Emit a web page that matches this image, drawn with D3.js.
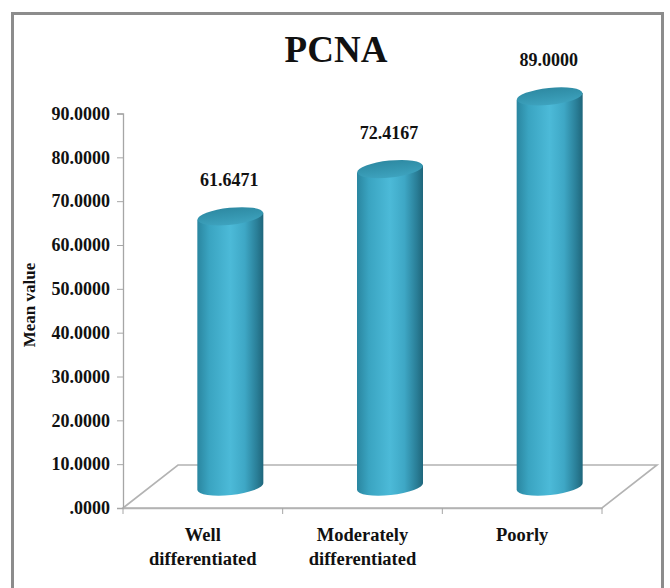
<!DOCTYPE html>
<html>
<head>
<meta charset="utf-8">
<script src="https://cdn.jsdelivr.net/npm/d3@7"></script>
<style>
body{margin:0;background:#fff;}
</style>
</head>
<body>
<svg id="chart" width="670" height="588"></svg>
<script>
const categories = [["Well","differentiated"],["Moderately","differentiated"],["Poorly"]];
const values = [61.6471, 72.4167, 89.0000];
const valueLabels = ["61.6471","72.4167","89.0000"];
const yTicks = [0,10,20,30,40,50,60,70,80,90];
const chartTitle = "PCNA";
const yTitle = "Mean value";

const FONT = "'Liberation Serif', 'Times New Roman', serif";
const svg = d3.select("#chart");
const defs = svg.append("defs");

function txt(sel){ return sel.style("font-family",FONT).style("font-weight","bold").style("fill","#111"); }

// frame
svg.append("rect").attr("x",12.5).attr("y",13.5).attr("width",650).attr("height",590)
  .attr("fill","#fff").attr("stroke","#8c8c8c").attr("stroke-width",3);

const x0 = 123, x1 = 602, depthX = 55, depthY = -43;
const y = d3.scaleLinear().domain([0,90]).range([508,113.5]);
const x = d3.scaleBand().domain(d3.range(categories.length)).range([x0,x1]).padding(0);

// title
txt(svg.append("text").attr("x",336).attr("y",62).attr("text-anchor","middle")
  .style("font-size","37px").text(chartTitle));

// y-axis title
txt(svg.append("text").attr("transform","translate(35,305) rotate(-90)")
  .attr("text-anchor","middle").style("font-size","17px").text(yTitle));

// floor
const floor = svg.append("g").attr("fill","none").attr("stroke","#b3b3b3").attr("stroke-width",1.6);
floor.append("path").attr("d",
  `M${x0},${y(0)} L${x0+depthX},${y(0)+depthY} L${x1+depthX},${y(0)+depthY} L${x1},${y(0)} Z`);

// y axis
const yAxis = d3.axisLeft(y).tickValues(yTicks).tickSize(6).tickPadding(7)
  .tickFormat(d => d===0 ? ".0000" : d3.format(".4f")(d));
const ya = svg.append("g").attr("transform",`translate(${x0},0)`).call(yAxis);
ya.select(".domain").attr("stroke","#a6a6a6").attr("stroke-width",1.3);
ya.selectAll(".tick line").attr("stroke","#a6a6a6");
txt(ya.selectAll(".tick text")).style("font-size","18px");

// x axis
const xAxis = d3.axisBottom(x).tickSize(0).tickFormat("");
const xa = svg.append("g").attr("transform",`translate(0,${y(0)})`).call(xAxis);
xa.select(".domain").attr("stroke","#b3b3b3").attr("stroke-width",1.6);
[0,1,2,3].forEach(i=>{
  const xx = i<3 ? x(i) : x1;
  xa.append("line").attr("x1",xx).attr("x2",xx).attr("y1",0).attr("y2",6).attr("stroke","#a6a6a6");
});
categories.forEach((lines,i)=>{
  const t = txt(svg.append("text").attr("x",x(i)+x.bandwidth()/2).attr("y",541)
    .attr("text-anchor","middle").style("font-size","18.5px"));
  lines.forEach((ln,j)=> t.append("tspan").attr("x",x(i)+x.bandwidth()/2).attr("dy", j===0?0:23.5).text(ln));
});

// gradients
const bodyG = defs.append("linearGradient").attr("id","body").attr("x1","0").attr("x2","1").attr("y1","0").attr("y2","0");
[[0,"#2a86a0"],[0.18,"#3aa4c1"],[0.5,"#4cbad8"],[0.72,"#3ea7c5"],[0.9,"#2a7f98"],[1,"#1f667b"]]
  .forEach(([o,c])=>bodyG.append("stop").attr("offset",o).attr("stop-color",c));
const topG = defs.append("linearGradient").attr("id","top").attr("x1","0").attr("x2","0").attr("y1","0").attr("y2","1");
[[0,"#2e8aa3"],[0.5,"#3596b0"],[1,"#3ea3bf"]]
  .forEach(([o,c])=>topG.append("stop").attr("offset",o).attr("stop-color",c));

// cylinders
const rx = 33, ry = 8.5, tilt = -6;
const a = tilt*Math.PI/180;
values.forEach((v,i)=>{
  const cx = x(i) + x.bandwidth()/2 + depthX/2;
  const yb = y(0) + depthY/2;
  const yt = y(v) + depthY/2;
  const s = rx*Math.sin(a);
  svg.append("path").attr("d",
    `M${cx-rx},${yt-s} L${cx-rx},${yb-s} A${rx},${ry} ${tilt} 0 0 ${cx+rx},${yb+s} L${cx+rx},${yt+s} Z`)
    .attr("fill","url(#body)");
  svg.append("ellipse").attr("cx",cx).attr("cy",yt).attr("rx",rx).attr("ry",ry)
    .attr("transform",`rotate(${tilt},${cx},${yt})`).attr("fill","url(#top)");
  txt(svg.append("text").attr("x",cx-1).attr("y",yt-30).attr("text-anchor","middle")
    .style("font-size","18px").text(valueLabels[i]));
});
</script>
</body>
</html>
